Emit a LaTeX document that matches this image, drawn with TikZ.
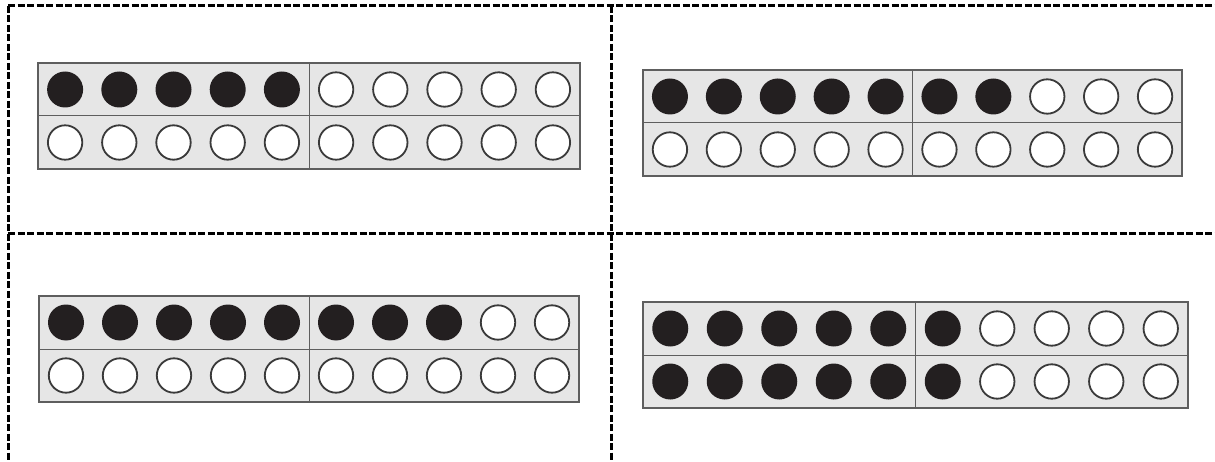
\documentclass[tikz,border=0pt]{standalone}
\begin{document}
\begin{tikzpicture}[x=1pt,y=-1pt,
    cutLine/.style={line width=3pt, dash pattern=on 7pt off 2.5pt},
    frameBox/.style={fill=frameFill, draw=frameBorder, line width=1.4pt},
    fullCounter/.style={fill=counterColour},
    emptyCounter/.style={fill=white, draw=ringColour, line width=1.8pt}]
    % Define colours
    \definecolor{frameBorder}{HTML}{5E5E5E}
    \definecolor{frameFill}{HTML}{E6E6E6}
    \definecolor{counterColour}{HTML}{231F20}
    \definecolor{ringColour}{HTML}{3A3A3A}

    % Define the page size
    \useasboundingbox (0,0) rectangle (1215,462);

    % Draw the cutting lines
    \draw[cutLine] (8,6) -- (1215,6);
    \draw[cutLine] (8,234) -- (1215,234);
    \draw[cutLine] (8,6) -- (8,462);
    \draw[cutLine] (611.5,6) -- (611.5,462);

    % Draw the ten frames: left, top, width, full counters in each row
    \foreach \fx/\fy/\fw/\topFull/\botFull in {38/63/542/5/0, 643/70/539/7/0, 39/296/540/8/0, 643/302/545/6/6} {
        \filldraw[frameBox] (\fx,\fy) rectangle ++(\fw,106);
        \draw[frameBox, fill=none, line width=1pt] (\fx,\fy+53) -- ++(\fw,0);
        \draw[frameBox, fill=none, line width=1pt] ({\fx+\fw/2},\fy) -- ++(0,106);

        % Top row
        \foreach \i in {1,...,10} {
            \ifnum\i>\topFull
                \filldraw[emptyCounter] ({\fx+(\i-0.5)*\fw/10},\fy+26.5) circle (17.2);
            \else
                \fill[fullCounter] ({\fx+(\i-0.5)*\fw/10},\fy+26.5) circle (18);
            \fi
        }
        % Bottom row
        \foreach \i in {1,...,10} {
            \ifnum\i>\botFull
                \filldraw[emptyCounter] ({\fx+(\i-0.5)*\fw/10},\fy+79.5) circle (17.2);
            \else
                \fill[fullCounter] ({\fx+(\i-0.5)*\fw/10},\fy+79.5) circle (18);
            \fi
        }
    }

\end{tikzpicture}
\end{document}
